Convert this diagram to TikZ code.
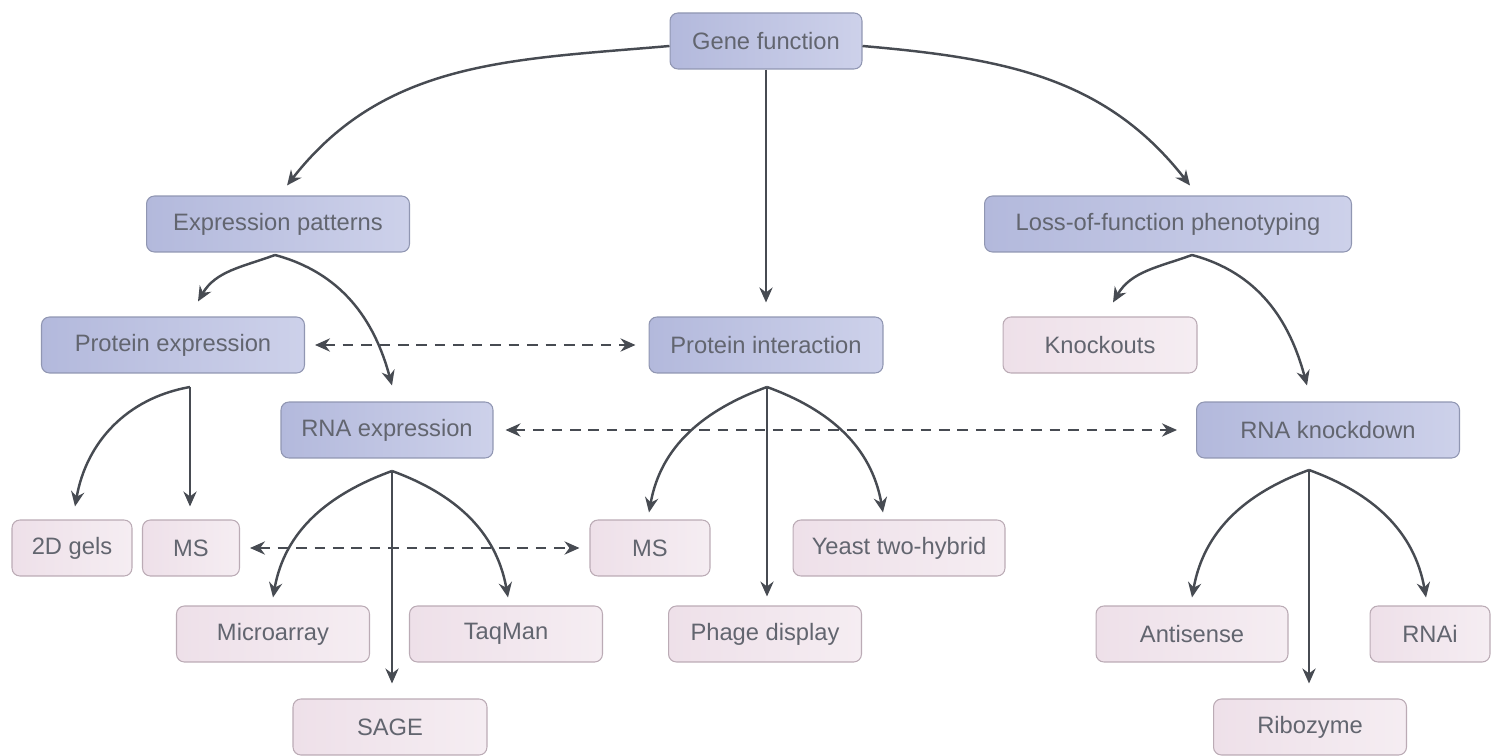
\documentclass[tikz,border=0pt]{standalone}
\usepackage{fontspec}
\setmainfont{Liberation Sans}
\usetikzlibrary{arrows.meta,calc}

\definecolor{txtgrey}{HTML}{62656F}
\definecolor{linkgrey}{HTML}{474B52}
\definecolor{catdraw}{HTML}{9096B2}
\definecolor{catleft}{HTML}{B3B9DC}
\definecolor{catright}{HTML}{CDD1EA}
\definecolor{methdraw}{HTML}{BBABB5}
\definecolor{methleft}{HTML}{EEE0E9}
\definecolor{methright}{HTML}{F5EDF2}

\tikzset{
  basebox/.style={rounded corners=4.5pt, minimum height=1.12cm, inner sep=0pt,
    font=\fontsize{13.5}{16}\selectfont, text=txtgrey, line width=0.6pt},
  catbox/.style={basebox, draw=catdraw, left color=catleft, right color=catright},
  methbox/.style={basebox, draw=methdraw, left color=methleft, right color=methright},
  tipshape/.style={},
  conn/.style={draw=linkgrey, line width=1.4pt, -{Stealth[length=8.5pt,width=7.5pt]}},
  dasharr/.style={draw=linkgrey, line width=1.4pt, dash pattern=on 6pt off 4.5pt,
    {Stealth[length=8.5pt,width=7.5pt]}-{Stealth[length=8.5pt,width=7.5pt]}}
}

\begin{document}
\begin{tikzpicture}[x=0.02cm,y=0.02cm]
\useasboundingbox (0,0) rectangle (1493,-756);

% top level
\node[catbox, minimum width=3.84cm] (gf) at (766,-41) {Gene function};

% second level
\node[catbox, minimum width=5.26cm] (ep) at (278,-224) {Expression patterns};
\node[catbox, minimum width=7.34cm] (lf) at (1168,-224) {Loss-of-function phenotyping};

% third level
\node[catbox, minimum width=5.26cm] (pe) at (173,-345) {Protein expression};
\node[catbox, minimum width=4.68cm] (pi) at (766,-345) {Protein interaction};
\node[methbox, minimum width=3.88cm] (ko) at (1100,-345) {Knockouts};
\node[catbox, minimum width=4.24cm] (re) at (387,-430) {RNA expression};
\node[catbox, minimum width=5.26cm] (rk) at (1328,-430) {RNA knockdown};

% methods
\node[methbox, minimum width=2.4cm]  (gels) at (72,-548)  {2D gels};
\node[methbox, minimum width=1.94cm] (ms1)  at (191,-548) {MS};
\node[methbox, minimum width=2.4cm]  (ms2)  at (650,-548) {MS};
\node[methbox, minimum width=4.24cm] (yth)  at (899,-548) {Yeast two-hybrid};
\node[methbox, minimum width=3.86cm] (ma)   at (273,-634) {Microarray};
\node[methbox, minimum width=3.86cm] (tq)   at (506,-634) {TaqMan};
\node[methbox, minimum width=3.86cm] (ph)   at (765,-634) {Phage display};
\node[methbox, minimum width=3.84cm] (an)   at (1192,-634) {Antisense};
\node[methbox, minimum width=2.4cm]  (rnai) at (1430,-634) {RNAi};
\node[methbox, minimum width=3.88cm] (sage) at (390,-727) {SAGE};
\node[methbox, minimum width=3.86cm] (rib)  at (1310,-727) {Ribozyme};

% branch points just below the parent boxes
\coordinate (epb) at (275,-255);
\coordinate (lfb) at (1192,-255);
\coordinate (peb) at (190,-387);
\coordinate (pib) at (767,-387);
\coordinate (reb) at (392,-471);
\coordinate (rkb) at (1309,-470);

% from the root
\draw[conn] ([yshift=-0.1cm]gf.west) to[out=185,in=52] ($(ep.north)+(9,10)$);
\draw[conn] ([yshift=-0.1cm]gf.east) to[out=-5,in=128] ($(lf.north)+(22,10)$);
\draw[conn] (gf.south) -- ($(pi.north)+(0,14)$);

% expression patterns
\draw[conn] (epb) to[out=200,in=60] ($(pe.north)+(25,15)$);
\draw[conn] (epb) to[out=-15,in=105] ($(re.north)+(5,16)$);

% loss-of-function phenotyping
\draw[conn] (lfb) to[out=200,in=60] ($(ko.north)+(13,14)$);
\draw[conn] (lfb) to[out=-15,in=105] ($(rk.north)+(-21,16)$);

% protein expression
\draw[conn] (peb) to[out=190,in=80] ($(gels.north)+(3,13)$);
\draw[conn] (peb) -- ($(peb |- ms1.north)+(0,13)$);

% RNA expression
\draw[conn] (reb) to[out=200,in=80] ($(ma.north)+(0,8)$);
\draw[conn] (reb) to[out=-20,in=100] ($(tq.north)+(2,8)$);
\draw[conn] (reb) -- ($(reb |- sage.north)+(0,15)$);

% protein interaction
\draw[conn] (pib) to[out=200,in=80] ($(ms2.north)+(-1,7)$);
\draw[conn] (pib) to[out=-20,in=100] ($(yth.north)+(-16,7)$);
\draw[conn] (pib) -- ($(pib |- ph.north)+(0,9)$);

% RNA knockdown
\draw[conn] (rkb) to[out=200,in=80] ($(an.north)+(0,8)$);
\draw[conn] (rkb) to[out=-20,in=100] ($(rnai.north)+(-4,8)$);
\draw[conn] (rkb) -- ($(rkb |- rib.north)+(0,15)$);

% cross links
\draw[dasharr, shorten <=0.2cm, shorten >=0.26cm] (pe.east) -- (pi.west);
\draw[dasharr, shorten <=0.24cm, shorten >=0.38cm] (re.east) -- (rk.west);
\draw[dasharr, shorten <=0.2cm, shorten >=0.2cm] (ms1.east) -- (ms2.west);
\end{tikzpicture}
\end{document}
